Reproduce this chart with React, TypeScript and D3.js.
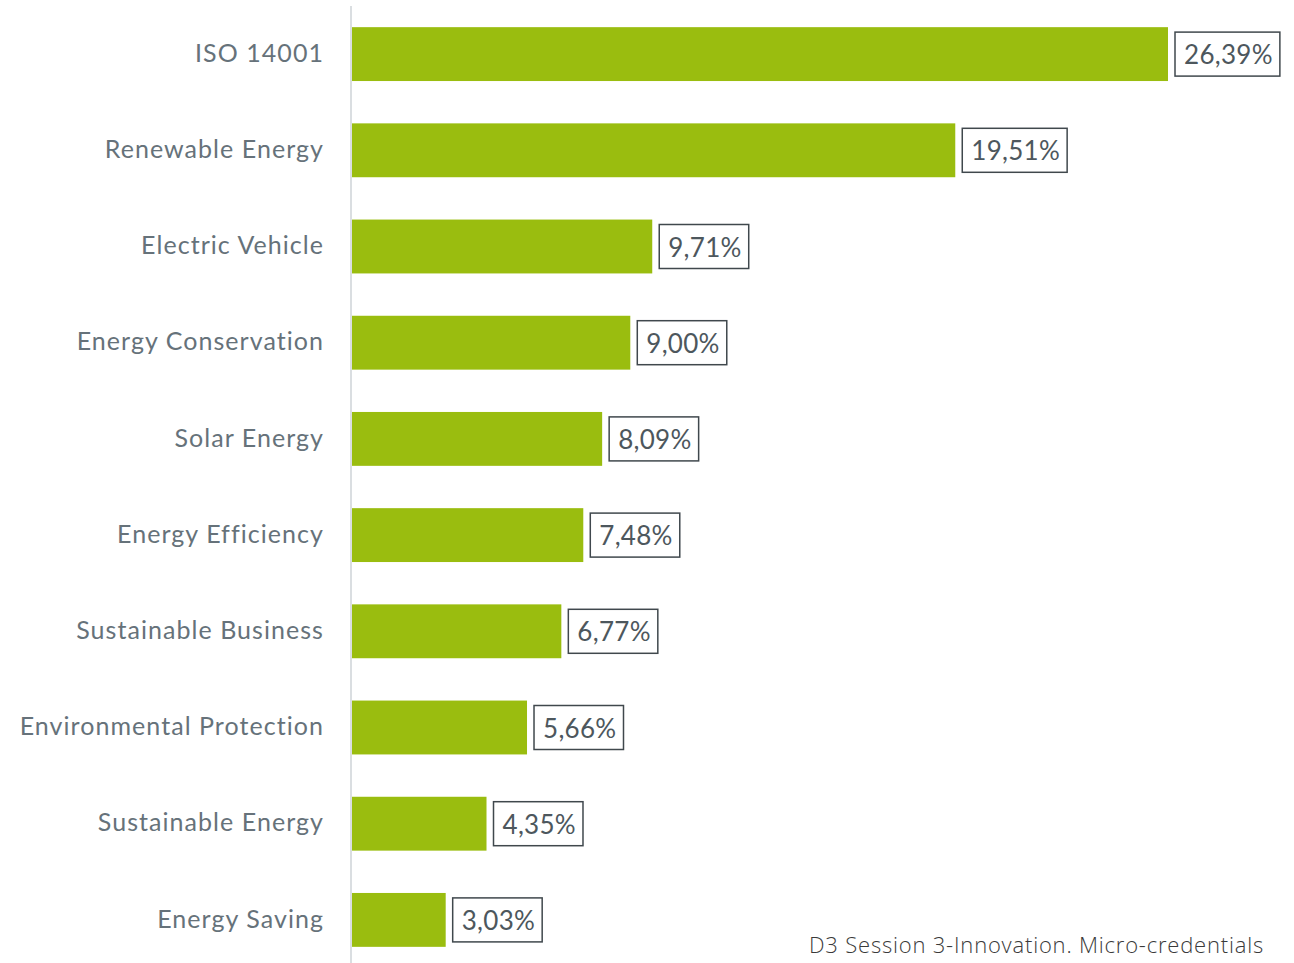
import React, { useEffect, useRef } from "react";
import * as d3 from "d3";

const categories = [
  "ISO 14001",
  "Renewable Energy",
  "Electric Vehicle",
  "Energy Conservation",
  "Solar Energy",
  "Energy Efficiency",
  "Sustainable Business",
  "Environmental Protection",
  "Sustainable Energy",
  "Energy Saving",
];
const values = [26.39, 19.51, 9.71, 9.0, 8.09, 7.48, 6.77, 5.66, 4.35, 3.03];
const footer = "D3 Session 3-Innovation. Micro-credentials";

const W = 1294;
const H = 963;

export default function App() {
  const ref = useRef<SVGSVGElement>(null);
  useEffect(() => {
    const svg = d3.select(ref.current);
    svg.selectAll("*").remove();
    const x = d3.scaleLinear().domain([0, 26.39]).range([352, 1168]);
    const y = d3.scaleBand<string>().domain(categories).range([6, 968]).paddingInner(0.44).paddingOuter(0.22);
    const data = categories.map((c, i) => ({ c, v: values[i] }));

    svg.append("line").attr("x1", 351).attr("x2", 351).attr("y1", 6).attr("y2", 963)
      .attr("stroke", "#dadee1").attr("stroke-width", 2);

    svg.selectAll("rect.bar").data(data).join("rect").attr("class", "bar")
      .attr("x", x(0)).attr("y", d => y(d.c)!).attr("width", d => x(d.v) - x(0))
      .attr("height", y.bandwidth()).attr("fill", "#9abd0f");

    svg.selectAll("text.cat").data(data).join("text").attr("class", "cat")
      .attr("x", 324).attr("y", d => y(d.c)! + y.bandwidth() / 2 - 1)
      .attr("dy", "0.35em").attr("text-anchor", "end")
      .attr("font-family", "Lato, sans-serif").attr("font-size", 25)
      .attr("letter-spacing", 1.05)
      .attr("fill", "#66727a").text(d => d.c);

    const g = svg.selectAll("g.lab").data(data).join("g").attr("class", "lab");
    const rects = g.append("rect").attr("fill", "white").attr("stroke", "#40484d").attr("stroke-width", 1.5);
    const texts = g.append("text")
      .attr("x", d => x(d.v) + 16).attr("y", d => y(d.c)! + y.bandwidth() / 2 + 1)
      .attr("dy", "0.35em")
      .attr("font-family", "Lato, sans-serif").attr("font-size", 26)
      .attr("letter-spacing", 0.3)
      .attr("fill", "#4d575d").text(d => d.v.toFixed(2).replace(".", ",") + "%");
    texts.each(function (d, i) {
      const bb = (this as SVGTextElement).getBBox();
      d3.select(rects.nodes()[i])
        .attr("x", x(d.v) + 7).attr("y", y(d.c)! + y.bandwidth() / 2 - 22)
        .attr("width", bb.width + 16).attr("height", 44);
    });

    svg.append("text").attr("x", 1264).attr("y", 953).attr("text-anchor", "end")
      .attr("font-family", "'Open Sans', sans-serif").attr("font-size", 22)
      .attr("letter-spacing", 0.8).attr("font-weight", 300)
      .attr("fill", "#3a3a3a").text(footer);
  }, []);
  return <svg ref={ref} width={W} height={H} style={{ display: "block", position: "absolute", left: 0, top: 0 }} />;
}
